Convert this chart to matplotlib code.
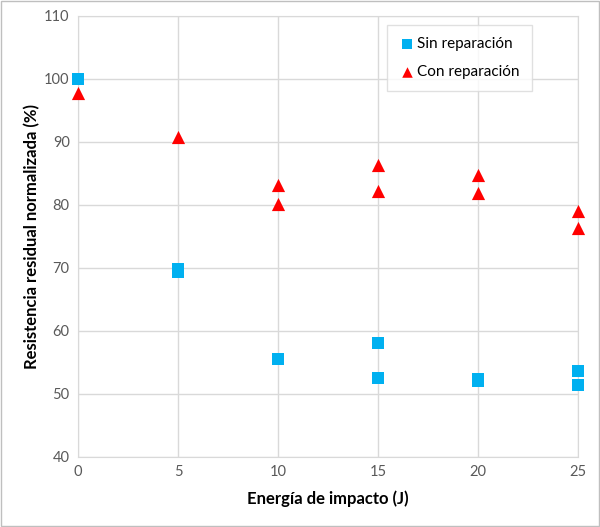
import matplotlib.pyplot as plt
from matplotlib.patches import Rectangle

# Data
energy_sin = [0, 5, 5, 10, 15, 15, 20, 20, 25, 25]
sin_reparacion = [100.0, 69.3, 69.8, 55.6, 58.1, 52.6, 52.0, 52.4, 53.7, 51.4]

energy_con = [0, 5, 10, 10, 15, 15, 20, 20, 25, 25]
con_reparacion = [97.8, 90.8, 83.1, 80.2, 86.4, 82.2, 84.8, 81.9, 79.1, 76.4]

x_ticks = [0, 5, 10, 15, 20, 25]
y_ticks = [40, 50, 60, 70, 80, 90, 100, 110]

plt.rcParams['font.family'] = ['Lato', 'DejaVu Sans']

fig = plt.figure(figsize=(6, 5.27), dpi=100)
ax = fig.add_axes([0.13, 0.133, 0.833, 0.837])

ax.scatter(energy_sin, sin_reparacion, marker='s', s=70, color='#00b0f0',
           label='Sin reparación', zorder=3, linewidths=0, clip_on=False)
ax.scatter(energy_con, con_reparacion, marker='^', s=90, color='#ff0000',
           label='Con reparación', zorder=3, linewidths=0, clip_on=False)

ax.set_xlim(0, 25)
ax.set_ylim(40, 110)
ax.set_xticks(x_ticks)
ax.set_yticks(y_ticks)
ax.grid(True, color='#d9d9d9', linewidth=1)
ax.set_axisbelow(True)
for spine in ax.spines.values():
    spine.set_color('#d9d9d9')
ax.tick_params(colors='#595959', labelsize=10.5, length=0, pad=6)

ax.set_xlabel('Energía de impacto (J)', fontsize=12, fontweight='bold', labelpad=8)
ax.set_ylabel('Resistencia residual normalizada (%)', fontsize=12, fontweight='bold', labelpad=3)

leg = ax.legend(loc='upper left', bbox_to_anchor=(0.618, 0.98), fontsize=11,
                frameon=True, fancybox=False, edgecolor='#d9d9d9',
                borderpad=0.8, labelspacing=0.9, handletextpad=0.2,
                handlelength=1.0, markerscale=0.8, borderaxespad=0)
leg.get_frame().set_linewidth(1)

# Outer chart border
fig.patches.append(Rectangle((0.002, 0.002), 0.996, 0.996, transform=fig.transFigure,
                             fill=False, edgecolor='#bfbfbf', linewidth=1))

fig.savefig('out.png', dpi=100)
